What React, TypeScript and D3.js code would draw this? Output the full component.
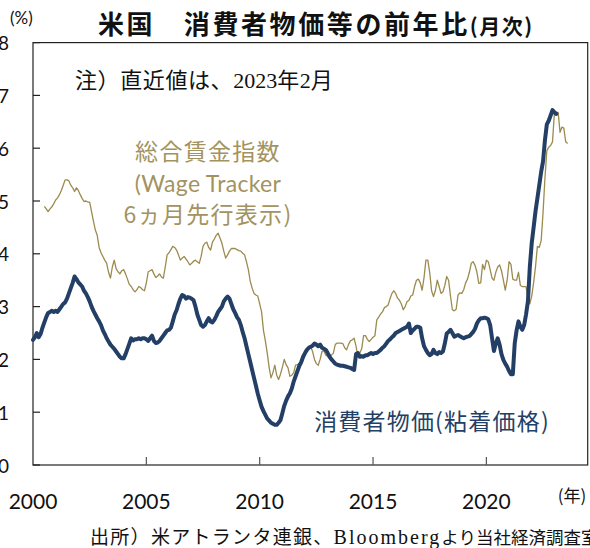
import React from 'react';
import * as d3 from 'd3';

// ---- data (monthly, Jan 2000 .. Feb 2023) ----
const START_YEAR = 2000;
const WAGE_LEAD_MONTHS = 6;

// Atlanta Fed sticky-price CPI, % y/y
const cpiSticky: number[] = [
  // 2000
  2.37, 2.42, 2.50, 2.42, 2.48, 2.60, 2.70, 2.80, 2.88, 2.90, 2.92, 2.90,
  // 2001
  2.92, 2.90, 2.95, 3.00, 3.05, 3.08, 3.15, 3.25, 3.35, 3.45, 3.57, 3.52,
  // 2002
  3.46, 3.42, 3.38, 3.30, 3.25, 3.18, 3.10, 3.00, 2.92, 2.85, 2.78, 2.72,
  // 2003
  2.65, 2.55, 2.48, 2.40, 2.34, 2.28, 2.24, 2.20, 2.15, 2.10, 2.05, 2.02,
  // 2004
  2.02, 2.10, 2.20, 2.30, 2.40, 2.36, 2.38, 2.38, 2.40, 2.38, 2.40, 2.40,
  // 2005
  2.38, 2.35, 2.40, 2.45, 2.35, 2.31, 2.32, 2.35, 2.40, 2.45, 2.50, 2.55,
  // 2006
  2.56, 2.60, 2.72, 2.85, 2.93, 3.05, 3.15, 3.22, 3.20, 3.15, 3.18, 3.17,
  // 2007
  3.15, 3.12, 3.00, 2.85, 2.75, 2.65, 2.62, 2.65, 2.72, 2.78, 2.72, 2.70,
  // 2008
  2.75, 2.82, 2.90, 2.95, 3.00, 3.10, 3.15, 3.19, 3.15, 3.05, 2.95, 2.88,
  // 2009
  2.80, 2.75, 2.65, 2.52, 2.40, 2.25, 2.10, 1.95, 1.80, 1.65, 1.50, 1.35,
  // 2010
  1.22, 1.10, 1.02, 0.95, 0.88, 0.84, 0.80, 0.78, 0.76, 0.76, 0.80, 0.85,
  // 2011
  0.98, 1.12, 1.22, 1.30, 1.36, 1.45, 1.58, 1.68, 1.78, 1.88, 1.95, 2.05,
  // 2012
  2.12, 2.18, 2.22, 2.24, 2.26, 2.30, 2.28, 2.25, 2.28, 2.22, 2.20, 2.18,
  // 2013
  2.12, 2.05, 2.00, 1.96, 1.92, 1.90, 1.89, 1.88, 1.88, 1.87, 1.86, 1.85,
  // 2014
  1.84, 1.82, 1.80, 2.10, 2.12, 2.05, 2.06, 2.05, 2.08, 2.08, 2.10, 2.12,
  // 2015
  2.10, 2.12, 2.12, 2.15, 2.18, 2.22, 2.25, 2.30, 2.35, 2.38, 2.42, 2.45,
  // 2016
  2.50, 2.52, 2.54, 2.56, 2.58, 2.60, 2.62, 2.68, 2.50, 2.55, 2.58, 2.62,
  // 2017
  2.62, 2.60, 2.40, 2.25, 2.18, 2.12, 2.08, 2.10, 2.18, 2.12, 2.10, 2.14,
  // 2018
  2.12, 2.15, 2.30, 2.49, 2.52, 2.56, 2.50, 2.43, 2.45, 2.46, 2.44, 2.42,
  // 2019
  2.40, 2.42, 2.43, 2.44, 2.48, 2.52, 2.58, 2.68, 2.74, 2.78, 2.78, 2.79,
  // 2020
  2.78, 2.76, 2.65, 2.40, 2.16, 2.30, 2.40, 2.28, 2.10, 1.99, 1.92, 1.86,
  // 2021
  1.78, 1.72, 1.72, 2.30, 2.55, 2.72, 2.62, 2.56, 2.65, 2.85, 3.10, 3.75,
  // 2022
  4.20, 4.50, 4.80, 5.05, 5.30, 5.55, 5.75, 6.15, 6.45, 6.52, 6.62, 6.72,
  // 2023
  6.68, 6.65,
];

// Atlanta Fed Wage Growth Tracker, % y/y (plotted 6 months ahead)
const wageTracker: number[] = [
  // 2000
  4.90, 4.85, 4.80, 4.85, 4.89, 4.95, 5.02, 5.06, 5.12, 5.20, 5.30, 5.40,
  // 2001
  5.40, 5.38, 5.30, 5.25, 5.18, 5.25, 5.20, 5.12, 5.05, 4.99, 5.00, 4.98,
  // 2002
  4.98, 4.80, 4.62, 4.45, 4.35, 4.12, 4.02, 3.95, 3.88, 3.82, 3.65, 3.54,
  // 2003
  3.75, 3.88, 3.72, 3.66, 3.62, 3.68, 3.70, 3.62, 3.52, 3.42, 3.38, 3.32,
  // 2004
  3.28, 3.32, 3.38, 3.36, 3.32, 3.30, 3.45, 3.66, 3.68, 3.70, 3.62, 3.55,
  // 2005
  3.58, 3.62, 3.56, 3.54, 3.75, 3.98, 4.02, 4.08, 4.14, 4.12, 4.07, 3.98,
  // 2006
  3.88, 3.92, 3.95, 3.90, 3.85, 3.79, 3.82, 3.86, 3.88, 3.85, 3.82, 3.95,
  // 2007
  4.14, 4.20, 4.22, 4.12, 4.07, 4.22, 4.28, 4.35, 4.39, 4.30, 4.20, 4.05,
  // 2008
  3.92, 3.98, 4.05, 4.10, 4.10, 4.10, 4.08, 4.06, 4.05, 4.01, 3.98, 3.85,
  // 2009
  3.70, 3.48, 3.35, 3.25, 3.22, 3.20, 3.05, 2.90, 2.55, 2.35, 2.12, 1.85,
  // 2010
  1.65, 1.75, 1.89, 1.70, 1.62, 1.72, 1.85, 2.00, 1.90, 1.84, 1.68, 1.70,
  // 2011
  1.75, 1.89, 1.90, 1.92, 1.93, 2.00, 2.15, 2.20, 2.22, 2.24, 2.15, 2.00,
  // 2012
  1.92, 1.89, 2.00, 2.15, 2.16, 2.08, 2.06, 2.08, 2.08, 2.12, 2.28, 2.31,
  // 2013
  2.31, 2.31, 2.30, 2.22, 2.18, 2.28, 2.35, 2.37, 2.40, 2.25, 2.05, 2.12,
  // 2014
  2.20, 2.45, 2.45, 2.38, 2.34, 2.38, 2.42, 2.45, 2.75, 2.80, 2.86, 2.90,
  // 2015
  2.98, 3.00, 3.03, 3.15, 3.25, 3.30, 3.25, 3.16, 3.12, 3.05, 2.94, 3.00,
  // 2016
  3.09, 3.12, 3.20, 3.22, 3.38, 3.50, 3.52, 3.45, 3.31, 3.55, 3.88, 3.88,
  // 2017
  3.65, 3.30, 3.19, 3.30, 3.50, 3.38, 3.25, 3.28, 3.40, 3.57, 3.50, 3.20,
  // 2018
  2.94, 2.92, 2.95, 3.22, 3.26, 3.25, 3.32, 3.45, 3.52, 3.65, 3.82, 3.85,
  // 2019
  3.78, 3.65, 3.44, 3.45, 3.80, 3.70, 3.88, 3.85, 3.70, 3.54, 3.50, 3.65,
  // 2020
  3.75, 3.79, 3.68, 3.50, 3.31, 3.50, 3.85, 3.80, 3.52, 3.50, 3.50, 3.65,
  // 2021
  3.40, 3.38, 3.38, 3.38, 3.15, 3.05, 3.20, 3.45, 3.75, 4.14, 4.12, 4.25,
  // 2022
  4.78, 5.43, 5.95, 6.02, 6.05, 6.12, 6.66, 6.68, 6.68, 6.30, 6.40, 6.38,
  // 2023
  6.12, 6.09,
];

const xTickYears = [2000, 2005, 2010, 2015, 2020];
const yTickValues = [0, 1, 2, 3, 4, 5, 6, 7, 8];

const titleMain = '米国　消費者物価等の前年比';
const titleSub = '(月次)';
const noteText = ['注）直近値は、', '2023', '年', '2', '月'];
const wageLabel = ['総合賃金指数', '(Wage Tracker', '6ヵ月先行表示)'];
const cpiLabel = '消費者物価(粘着価格)';
const sourceParts = ['出所）米アトランタ連銀、', 'Bloomberg', 'より当社経済調査室作成'];

const NAVY = '#243f66';
const OLIVE = '#9c8b4f';
const OLIVE_TEXT = '#a39360';
const JP = '"Noto Sans CJK JP", "Noto Sans", sans-serif';
const NUM = 'Lato, "Noto Sans", sans-serif';
const SERIF = '"Liberation Serif", "DejaVu Serif", serif';

export default function App() {
  const W = 590;
  const H = 548;
  const left = 33;
  const right = 587.7;
  const top = 42.6;
  const bottom = 465;

  const x = d3.scaleLinear().domain([2000, 2024.47]).range([left, right]);
  const y = d3.scaleLinear().domain([0, 8]).range([bottom, top]);

  const cpiPts: [number, number][] = cpiSticky.map((v, i) => [START_YEAR + i / 12, v]);
  const wagePts: [number, number][] = wageTracker.map((v, i) => [
    START_YEAR + (i + WAGE_LEAD_MONTHS) / 12,
    v,
  ]);

  const line = d3
    .line<[number, number]>()
    .x((d) => x(d[0]))
    .y((d) => y(d[1]));

  return (
    <svg
      width={W}
      height={H}
      viewBox={`0 0 ${W} ${H}`}
      style={{ position: 'absolute', left: 0, top: 0, background: '#fff' }}
    >
      <rect x={0} y={0} width={W} height={H} fill="#fff" />

      {/* title */}
      <text x={98} y={34} fontFamily={JP} fontSize={26} fontWeight={700} fill="#111" letterSpacing={2.6}>
        {titleMain}
        <tspan fontSize={21} letterSpacing={1.5}>{titleSub}</tspan>
      </text>

      {/* (%) */}
      <text x={10} y={24} fontFamily={NUM} fontSize={17} fill="#111">(%)</text>

      {/* frame */}
      <rect x={left} y={top} width={right - left} height={bottom - top} fill="none" stroke="#222" strokeWidth={1.2} />

      {/* y ticks */}
      {yTickValues.map((v) => (
        <g key={`y${v}`}>
          <line x1={left} x2={left + 7} y1={y(v)} y2={y(v)} stroke="#222" strokeWidth={1.2} />
          <text x={9} y={y(v)} textAnchor="end" dominantBaseline="central" fontFamily={NUM} fontSize={19} fill="#111">
            {v}
          </text>
        </g>
      ))}

      {/* x ticks */}
      {xTickYears.map((yr) => (
        <g key={`x${yr}`}>
          {yr !== 2000 && (
            <line x1={x(yr)} x2={x(yr)} y1={bottom} y2={bottom - 8} stroke="#555" strokeWidth={1.2} />
          )}
          <text x={x(yr)} y={500} textAnchor="middle" dominantBaseline="central" fontFamily={NUM} fontSize={21} fill="#111">
            {yr}
          </text>
        </g>
      ))}
      <text x={572} y={494} textAnchor="middle" dominantBaseline="central" fontFamily={JP} fontSize={17} fill="#111">
        (年)
      </text>

      {/* series */}
      <path d={line(wagePts) || ''} fill="none" stroke={OLIVE} strokeWidth={1.3} strokeLinejoin="round" />
      <path d={line(cpiPts) || ''} fill="none" stroke={NAVY} strokeWidth={4} strokeLinejoin="round" strokeLinecap="round" />

      {/* note */}
      <text x={75} y={88} fontFamily={JP} fontSize={22} fill="#111" letterSpacing={0.6}>
        {noteText[0]}
        <tspan fontFamily={SERIF} fontSize={22} letterSpacing={0}>{noteText[1]}</tspan>
        <tspan>{noteText[2]}</tspan>
        <tspan fontFamily={SERIF} fontSize={22} letterSpacing={0}>{noteText[3]}</tspan>
        <tspan>{noteText[4]}</tspan>
      </text>

      {/* wage label */}
      {wageLabel.map((t, i) => (
        <text
          key={`wl${i}`}
          x={208}
          y={[150, 183, 213][i]}
          textAnchor="middle"
          dominantBaseline="central"
          fontFamily={i === 1 ? NUM : JP}
          fontSize={23}
          fill={OLIVE_TEXT}
          letterSpacing={i === 1 ? 0.3 : 1.3}
        >
          {t}
        </text>
      ))}

      {/* cpi label */}
      <text x={432} y={420} textAnchor="middle" dominantBaseline="central" fontFamily={JP} fontSize={23} fill={NAVY} letterSpacing={1.2}>
        {cpiLabel}
      </text>

      {/* source */}
      <text x={90} y={544} fontFamily={JP} fontSize={19} fill="#111" letterSpacing={1.3}>
        {sourceParts[0]}
        <tspan fontFamily={SERIF} fontSize={20} letterSpacing={2}>{sourceParts[1]}</tspan>
        <tspan fontSize={17.5} letterSpacing={0}>{sourceParts[2]}</tspan>
      </text>
    </svg>
  );
}
